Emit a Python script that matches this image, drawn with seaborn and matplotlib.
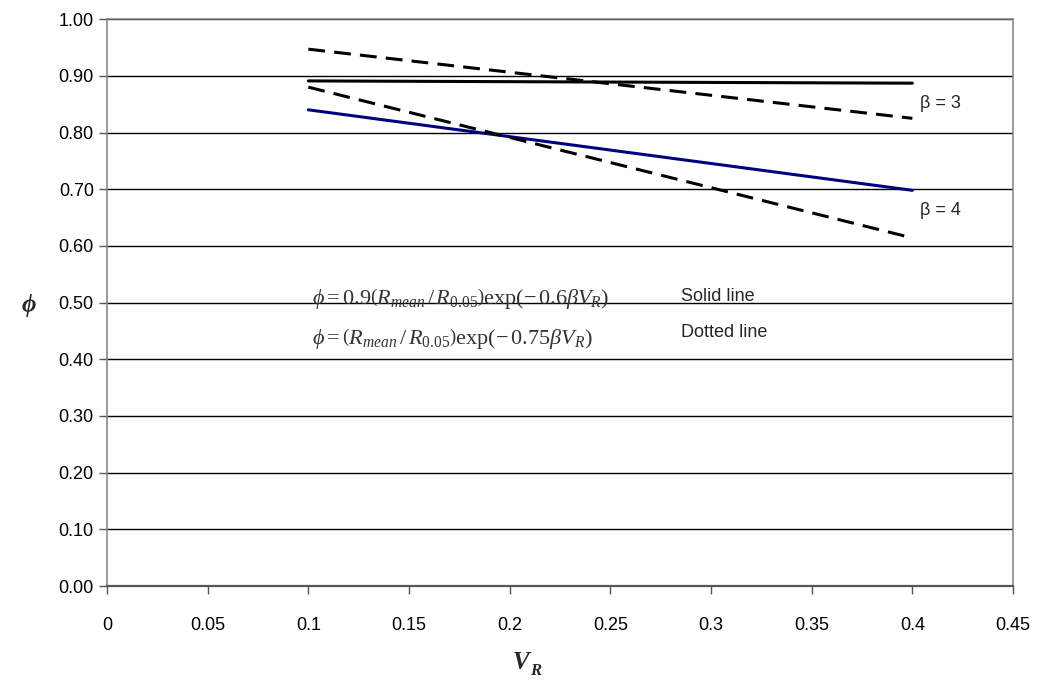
import pandas as pd
import matplotlib
matplotlib.use("Agg")
import matplotlib.pyplot as plt
import seaborn as sns

# Values
vr = [0.1, 0.4]
solid_beta3 = [0.891, 0.887]
dashed_beta3 = [0.947, 0.825]
solid_beta4 = [0.840, 0.698]
dashed_beta4 = [0.880, 0.614]
y_ticks = [0.0, 0.1, 0.2, 0.3, 0.4, 0.5, 0.6, 0.7, 0.8, 0.9, 1.0]
x_ticks = [0, 0.05, 0.1, 0.15, 0.2, 0.25, 0.3, 0.35, 0.4, 0.45]
x_tick_labels = ['0', '0.05', '0.1', '0.15', '0.2', '0.25', '0.3', '0.35', '0.4', '0.45']

sns.set_style('white')
plt.rcParams['font.family'] = ['Liberation Sans', 'DejaVu Sans']
plt.rcParams['mathtext.fontset'] = 'custom'
plt.rcParams['mathtext.rm'] = 'Liberation Serif'
plt.rcParams['mathtext.it'] = 'Liberation Serif:italic'
plt.rcParams['mathtext.bf'] = 'Liberation Serif:bold'

fig = plt.figure(figsize=(10.42, 6.83), dpi=100)
ax = fig.add_axes([0.1027, 0.142, 0.8695, 0.830])

for y in y_ticks[1:]:
    ax.axhline(y, color='black', lw=1.0, zorder=0)

series = [
    (solid_beta3, 'black', '-'),
    (dashed_beta3, 'black', '--'),
    (solid_beta4, '#000080', '-'),
    (dashed_beta4, 'black', '--'),
]
for vals, col, ls in series:
    df = pd.DataFrame({'vr': vr, 'phi': vals})
    sns.lineplot(data=df, x='vr', y='phi', color=col, lw=2.2, ax=ax)
    if ls == '--':
        ax.lines[-1].set_dashes([5.5, 3])

ax.set_xlim(0, 0.45)
ax.set_ylim(0, 1.0)
ax.set_xticks(x_ticks)
ax.set_xticklabels(x_tick_labels)
ax.set_yticks(y_ticks)
ax.set_yticklabels([f'{v:.2f}' for v in y_ticks])
ax.tick_params(axis='both', labelsize=13, direction='out', length=6, width=1,
               color='#555555', left=True, bottom=True, labelcolor='black')
ax.tick_params(axis='x', pad=16)
for s in ax.spines.values():
    s.set_color('#808080')
    s.set_linewidth(1.1)
ax.spines['bottom'].set_color('#555555')
ax.spines['bottom'].set_linewidth(1.6)

ax.set_xlabel('')
ax.set_ylabel('')
serif_bi = dict(family=['Liberation Serif', 'DejaVu Serif'], fontweight='bold',
                fontstyle='italic')
fig.text(0.5, 0.030, 'V', fontsize=18, ha='center', va='center', **serif_bi)
fig.text(0.509, 0.018, 'R', fontsize=12, ha='left', va='center', **serif_bi)
fig.text(0.028, 0.553, 'ϕ', fontsize=18, ha='center', va='center', **serif_bi)

ax.text(0.404, 0.852, 'β = 3', fontsize=13, va='center')
ax.text(0.404, 0.663, 'β = 4', fontsize=13, va='center')
ax.text(0.1018, 0.508,
        r'$\phi = 0.9\left(R_{mean}\,/\,R_{0.05}\right)\mathrm{exp}\left(-\,0.6\beta V_R\right)$',
        fontsize=16, va='center', color='#333333')
ax.text(0.1018, 0.436,
        r'$\phi = \left(R_{mean}\,/\,R_{0.05}\right)\mathrm{exp}\left(-\,0.75\beta V_R\right)$',
        fontsize=16, va='center', color='#333333')
ax.text(0.285, 0.510, 'Solid line', fontsize=13, va='center')
ax.text(0.285, 0.447, 'Dotted line', fontsize=13, va='center')

fig.savefig('out.png', dpi=100)
